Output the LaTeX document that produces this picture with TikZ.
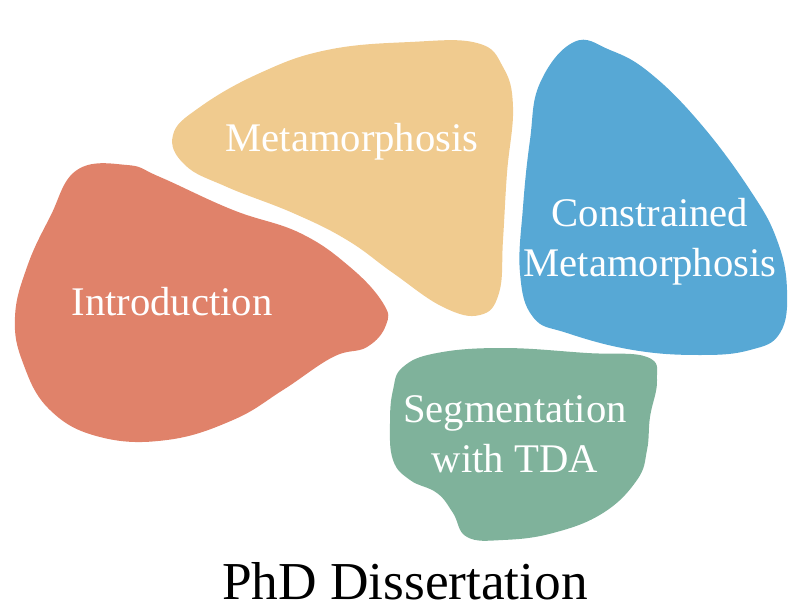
\documentclass[tikz,border=0pt]{standalone}
\usepackage{fontspec}
\setmainfont{Liberation Serif}
\usepackage{xcolor}

\definecolor{introred}{HTML}{E0826A}
\definecolor{metayellow}{HTML}{F0CB8F}
\definecolor{constblue}{HTML}{57A8D5}
\definecolor{seggreen}{HTML}{7FB29B}

\begin{document}
\begin{tikzpicture}[x=0.75pt, y=-0.75pt,
        blob/.style={smooth cycle, tension=0.7},
        blobtext/.style={text=white, align=center, font=\fontsize{30.5}{37.5}\selectfont}]
        \useasboundingbox (0,0) rectangle (800,614);
        % the four chapters
        \fill [introred] plot [blob] coordinates {(77,170) (127,165) (160,177) (233,210) (300,233) (350,267) (383,303) (386,325) (367,347) (333,357) (283,390) (233,420) (167,440) (100,437) (50,410) (23,363) (15,317) (27,267) (50,217)};
        \fill [metayellow] plot [blob] coordinates {(173,135) (200,107) (260,73) (327,50) (410,42) (477,43) (503,67) (513,107) (507,173) (503,240) (499,293) (480,315) (443,307) (393,273) (347,240) (293,213) (227,187) (185,165)};
        \fill [constblue] plot [blob] coordinates {(574,42) (610,50) (650,73) (700,123) (750,190) (777,240) (787,290) (780,333) (750,350) (700,355) (633,350) (567,333) (533,317) (520,273) (523,207) (530,140) (540,83)};
        \fill [seggreen] plot [blob] coordinates {(403,367) (437,353) (503,348) (587,353) (647,357) (657,380) (650,417) (647,450) (637,480) (603,513) (553,533) (503,540) (467,537) (453,513) (437,493) (410,480) (393,460) (390,423) (393,390)};
        \node (intro) [blobtext] at (172,302) {Introduction};
        \node (meta) [blobtext] at (352,142) {Metamorphosis};
        \node (const) [blobtext] at (650,242) {Constrained\\Metamorphosis};
        \node (seg) [blobtext] at (515,434) {Segmentation\\with TDA};
        \node (phd) [font=\fontsize{40}{46}\selectfont] at (405,581) {PhD Dissertation};
\end{tikzpicture}
\end{document}
